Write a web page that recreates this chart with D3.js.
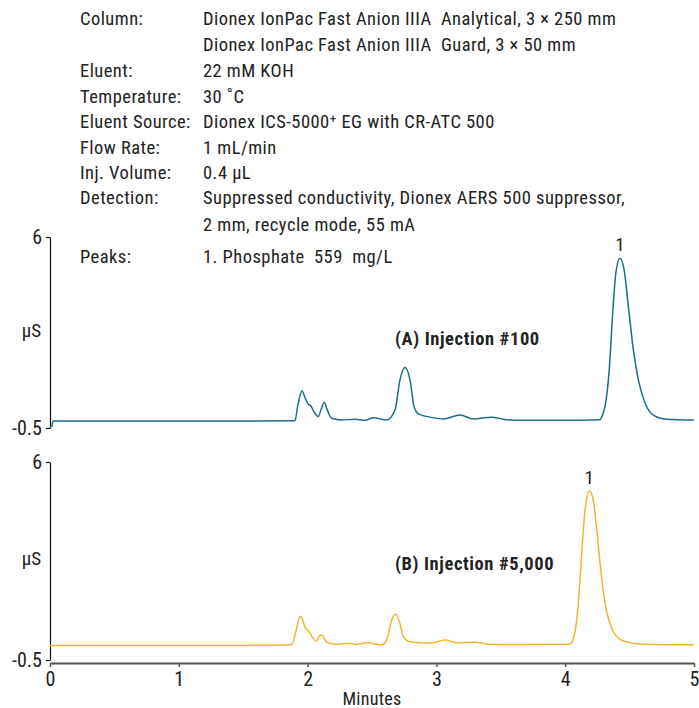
<!DOCTYPE html>
<html><head><meta charset="utf-8">
<script src="https://cdn.jsdelivr.net/npm/d3@7"></script>
<style>
body{margin:0;background:#fff;}
text{font-family:"Liberation Sans Narrow","Roboto Condensed","Roboto","Liberation Sans",sans-serif;fill:#222;white-space:pre;}
</style></head>
<body><svg id="c" width="699" height="708"></svg>
<script>
// ---- data ----
const conditionLabels = ["Column:","","Eluent:","Temperature:","Eluent Source:","Flow Rate:","Inj. Volume:","Detection:","","Peaks:"];
const conditionValues = ["Dionex IonPac Fast Anion IIIA  Analytical, 3 \u00d7 250 mm",
  "Dionex IonPac Fast Anion IIIA  Guard, 3 \u00d7 50 mm",
  "22 mM KOH","30 \u02daC","Dionex ICS-5000\u207a EG with CR-ATC 500","1 mL/min","0.4 \u00b5L",
  "Suppressed conductivity, Dionex AERS 500 suppressor,","2 mm, recycle mode, 55 mA","1. Phosphate  559  mg/L"];
const xTicks = [0,1,2,3,4,5];
const yTicks = [-0.5, 6];
const panelTitles = ["(A) Injection #100","(B) Injection #5,000"];
const peakLabel = "1";
const peakTimeA = 4.425, peakValA = 5.28;
const peakTimeB = 4.187, peakValB = 5.06;

const timeA = [0.0,0.012,0.025,0.5,1.0,1.5,1.902,1.925,1.957,1.98,2.005,2.024,2.05,2.083,2.104,2.13,2.15,2.187,2.265,2.368,2.446,2.51,2.614,2.679,2.717,2.756,2.795,2.826,2.86,2.95,3.054,3.183,3.287,3.429,3.519,3.649,3.96,4.27,4.286,4.309,4.342,4.369,4.394,4.425,4.457,4.49,4.529,4.568,4.62,4.684,4.788,5.0];
const valA  = [-0.45,-0.45,-0.26,-0.26,-0.26,-0.26,-0.25,0.29,0.77,0.53,0.31,0.26,0.05,-0.11,0.12,0.38,0.15,-0.17,-0.23,-0.2,-0.24,-0.15,-0.23,0.12,1.14,1.56,1.14,0.23,-0.02,-0.13,-0.19,-0.06,-0.19,-0.13,-0.2,-0.24,-0.24,-0.22,-0.09,0.23,1.48,3.43,4.8,5.28,4.9,3.65,2.17,1.14,0.35,-0.06,-0.2,-0.23];

const timeB = [0.0,0.5,1.0,1.5,1.877,1.91,1.943,1.988,2.005,2.063,2.104,2.153,2.226,2.329,2.381,2.453,2.575,2.614,2.653,2.684,2.717,2.743,2.795,2.873,2.95,3.067,3.158,3.3,3.416,3.649,4.037,4.068,4.102,4.128,4.154,4.187,4.218,4.245,4.276,4.309,4.348,4.4,4.478,4.606,5.0];
const valB  = [-0.02,-0.02,-0.02,-0.02,0.0,0.45,0.94,0.52,0.46,0.13,0.33,0.07,0.02,0.05,0.01,0.07,0.0,0.16,0.81,1.01,0.7,0.27,0.1,0.07,0.05,0.16,0.07,0.08,0.02,0.01,0.02,0.27,1.36,3.0,4.42,5.06,4.75,3.77,2.46,1.36,0.7,0.27,0.09,0.02,0.0];

// ---- drawing ----
const svg = d3.select("#c");
const x = d3.scaleLinear().domain([0,5]).range([50,694]);

// header
const hdr = svg.append("g").style("font-size","18.5px").style("letter-spacing","0.45px");
const lineY = [25,51,77,103,128,154,179,204,231,263];
conditionLabels.forEach((t,i)=>{ if(t) hdr.append("text").attr("x",80).attr("y",lineY[i]).text(t); });
conditionValues.forEach((t,i)=>{ hdr.append("text").attr("x",203).attr("y",lineY[i]).text(t); });

const panels = [
  {y: d3.scaleLinear().domain([-0.5,6]).range([428,237]), t: timeA, v: valA, color:"#1d6f86", title: panelTitles[0], titleY: 345, pk:[peakTimeA,peakValA]},
  {y: d3.scaleLinear().domain([-0.5,6]).range([660,462]), t: timeB, v: valB, color:"#f6b333", title: panelTitles[1], titleY: 570, pk:[peakTimeB,peakValB]}
];

panels.forEach(p=>{
  const g = svg.append("g");
  const ax = g.append("g").attr("transform","translate(50,0)")
    .call(d3.axisLeft(p.y).tickValues(yTicks).tickSize(4).tickSizeOuter(0).tickPadding(4).tickFormat(d=>d));
  ax.select(".domain").attr("stroke","#111").attr("stroke-width",1.2);
  ax.selectAll(".tick line").attr("stroke","#111").attr("stroke-width",1.2);
  ax.selectAll(".tick text").style("font-size","20px").attr("fill","#222").attr("font-family",null);
  g.append("text").attr("x",41).attr("y",(p.y(6)+p.y(-0.5))/2+4).attr("text-anchor","end")
    .style("font-size","19px").text("\u00b5S");
  const line = d3.line().x((d,i)=>x(p.t[i])).y(d=>p.y(d)).curve(d3.curveMonotoneX);
  g.append("path").attr("d",line(p.v)).attr("fill","none").attr("stroke",p.color).attr("stroke-width",1.5);
  g.append("text").attr("x",395).attr("y",p.titleY).style("font-size","18.5px").style("letter-spacing","0.6px").style("font-weight","bold").text(p.title);
  g.append("text").attr("x",x(p.pk[0])).attr("y",p.y(p.pk[1])-7).attr("text-anchor","middle").style("font-size","19px").text(peakLabel);
});

// x axis
const xa = svg.append("g").attr("transform","translate(0,663)")
  .call(d3.axisBottom(x).tickValues(xTicks).tickSize(4).tickSizeOuter(0).tickPadding(5).tickFormat(d3.format("d")));
xa.select(".domain").attr("stroke","#555").attr("stroke-width",2);
xa.selectAll(".tick line").attr("stroke","#555").attr("stroke-width",1.5);
xa.selectAll(".tick text").style("font-size","20px").attr("fill","#222").attr("font-family",null);
svg.append("text").attr("x",372).attr("y",705).attr("text-anchor","middle").style("font-size","18px").style("letter-spacing","0.3px").text("Minutes");
</script></body></html>
